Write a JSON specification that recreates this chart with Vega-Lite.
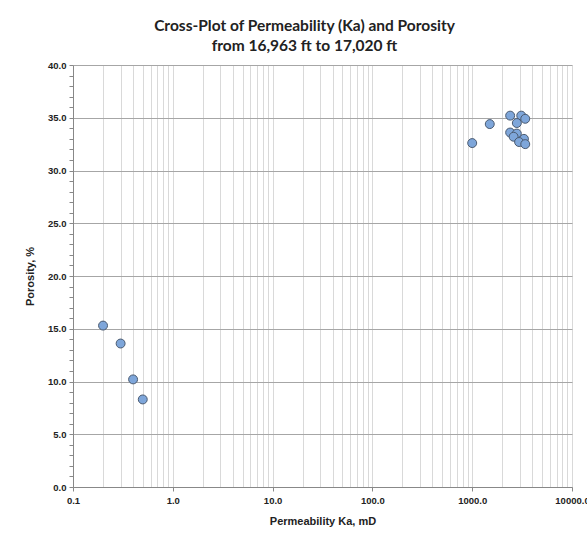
{
  "$schema": "https://vega.github.io/schema/vega-lite/v6.json",
  "autosize": {"type": "none"},
  "width": 499,
  "height": 422,
  "padding": {"left": 73, "top": 65, "right": 15, "bottom": 48},
  "background": "white",
  "config": {"view": {"stroke": null}},
  "title": {
    "text": ["Cross-Plot of Permeability (Ka) and Porosity", "from 16,963 ft to 17,020 ft"],
    "font": "Lato",
    "fontSize": 15.5,
    "fontWeight": "bold",
    "color": "#222222",
    "lineHeight": 20,
    "anchor": "middle",
    "frame": "group",
    "dx": -18,
    "offset": 6
  },
  "data": {
    "values": [
      {"ka": 0.2, "phi": 15.3},
      {"ka": 0.3, "phi": 13.6},
      {"ka": 0.4, "phi": 10.2},
      {"ka": 0.5, "phi": 8.3},
      {"ka": 1000, "phi": 32.6},
      {"ka": 1500, "phi": 34.4},
      {"ka": 2400, "phi": 35.2},
      {"ka": 3100, "phi": 35.2},
      {"ka": 3400, "phi": 34.9},
      {"ka": 2800, "phi": 34.5},
      {"ka": 2400, "phi": 33.6},
      {"ka": 2800, "phi": 33.5},
      {"ka": 2600, "phi": 33.2},
      {"ka": 3300, "phi": 33.0},
      {"ka": 2950, "phi": 32.7},
      {"ka": 3400, "phi": 32.5}
    ]
  },
  "mark": {"type": "point", "filled": true, "size": 80, "fill": "#7ea6da", "stroke": "#4a5a70", "strokeWidth": 1, "opacity": 1},
  "encoding": {
    "x": {
      "field": "ka",
      "type": "quantitative",
      "scale": {"type": "log", "domain": [0.1, 10000], "nice": false},
      "axis": {
        "title": "Permeability Ka, mD",
        "titleFont": "Arial",
        "titleFontSize": 11,
        "titleFontWeight": "bold",
        "titleColor": "#222222",
        "titlePadding": 11,
        "values": [0.1,0.2,0.3,0.4,0.5,0.6,0.7,0.8,0.9,1,2,3,4,5,6,7,8,9,10,20,30,40,50,60,70,80,90,100,200,300,400,500,600,700,800,900,1000,2000,3000,4000,5000,6000,7000,8000,9000,10000],
        "labelExpr": "abs(log(datum.value)/LN10 - round(log(datum.value)/LN10)) < 0.001 ? format(datum.value, '.1f') : ''",
        "labelFont": "Arial",
        "labelFontSize": 9.5,
        "labelFontWeight": "bold",
        "labelColor": "#222222",
        "labelPadding": 4,
        "labelFlush": false,
        "labelOverlap": false,
        "domainColor": "#888888",
        "tickColor": "#888888",
        "tickSize": 4,
        "tickOpacity": {"condition": {"test": "abs(log(datum.value)/LN10 - round(log(datum.value)/LN10)) < 0.001", "value": 1}, "value": 0},
        "grid": true,
        "gridColor": "#d9d9d9",
        "gridWidth": 1
      }
    },
    "y": {
      "field": "phi",
      "type": "quantitative",
      "scale": {"domain": [0, 40], "nice": false},
      "axis": {
        "title": "Porosity, %",
        "titleFont": "Arial",
        "titleFontSize": 11,
        "titleFontWeight": "bold",
        "titleColor": "#222222",
        "titlePadding": 12,
        "values": [0,1,2,3,4,5,6,7,8,9,10,11,12,13,14,15,16,17,18,19,20,21,22,23,24,25,26,27,28,29,30,31,32,33,34,35,36,37,38,39,40],
        "labelExpr": "datum.value % 5 === 0 ? format(datum.value, '.1f') : ''",
        "labelFont": "Arial",
        "labelFontSize": 9.5,
        "labelFontWeight": "bold",
        "labelColor": "#222222",
        "labelPadding": 3,
        "labelFlush": false,
        "labelOverlap": false,
        "domainColor": "#888888",
        "tickColor": "#888888",
        "tickSize": 4,
        "grid": true,
        "gridColor": "#a6a6a6",
        "gridOpacity": {"condition": {"test": "datum.value % 5 === 0", "value": 1}, "value": 0}
      }
    }
  }
}
